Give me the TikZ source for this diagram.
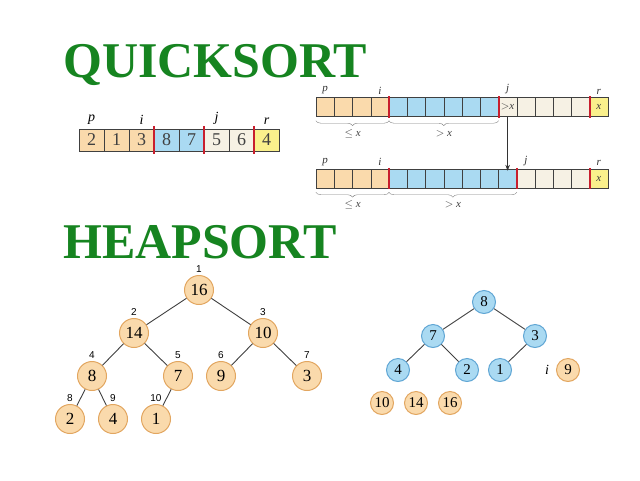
\documentclass[tikz,border=0pt]{standalone}
\usepackage{fontspec}
\setmainfont{Liberation Serif}
\setsansfont{Liberation Sans}
\usetikzlibrary{arrows.meta,positioning,calc,decorations.pathreplacing}

\definecolor{titlegreen}{RGB}{22,132,32}
\definecolor{lowpart}{RGB}{250,218,172}
\definecolor{highpart}{RGB}{170,218,242}
\definecolor{restpart}{RGB}{246,241,228}
\definecolor{pivot}{RGB}{250,240,140}
\definecolor{bar}{RGB}{200,30,45}
\definecolor{ringorange}{RGB}{226,166,96}
\definecolor{ringblue}{RGB}{96,166,212}

\tikzset{
  title/.style={font=\fontsize{50}{50}\selectfont\bfseries, text=titlegreen, anchor=base west, inner sep=0pt, text depth=0pt},
  cell/.style={draw=black!75, minimum width=25pt, minimum height=22pt, inner sep=0pt, font=\fontsize{18}{18}\selectfont, text=black!75},
  bigcell/.style={draw=black!75, minimum width=18.25pt, minimum height=19pt, inner sep=0pt},
  celltext/.style={font=\fontsize{11}{11}\selectfont, text=black!75, inner sep=0pt},
  divider/.style={bar, line width=2.5pt},
  ptr/.style={font=\fontsize{14}{14}\selectfont\itshape, inner sep=1pt},
  smallptr/.style={font=\fontsize{11}{11}\selectfont\itshape, inner sep=1pt, text=black!80},
  brace/.style={decorate, decoration={brace, mirror, amplitude=5pt}, black!50, thin},
  heapnode/.style={circle, draw=ringorange, fill=lowpart, line width=1pt, minimum size=29pt, inner sep=0pt, font=\fontsize{17}{17}\selectfont},
  bluenode/.style={circle, draw=ringblue, fill=highpart, line width=1pt, minimum size=23pt, inner sep=0pt, font=\fontsize{15}{15}\selectfont},
  sortednode/.style={bluenode, draw=ringorange, fill=lowpart},
  idx/.style={font=\sffamily\fontsize{10}{10}\selectfont, inner sep=2pt},
  edge/.style={black!75, line width=0.9pt}
}

\begin{document}
\begin{tikzpicture}[x=1pt,y=-1pt]
\useasboundingbox (0,0) rectangle (640,480);

\node[title] (quick) at (63,77) {QUICKSORT};
\node[title] (heap) at (63,258) {HEAPSORT};

% small array
\foreach \v/\c [count=\k] in {2/lowpart,1/lowpart,3/lowpart,8/highpart,7/highpart,5/restpart,6/restpart,4/pivot}
  \node[cell, fill=\c] (a\k) at ({66.5+25*\k},140) {\v};
\foreach \k in {3,5,7}
  \draw[divider] ([yshift=3pt]a\k.north east) -- ([yshift=-3pt]a\k.south east);
\node[ptr, above=3pt of a1] (ap) {p};
\node[ptr, above=3pt of a3] (ai) {i};
\node[ptr, above=3pt of a6] (aj) {j};
\node[ptr, above=3pt of a8] (ar) {r};

% partition, before
\foreach \c [count=\k] in {lowpart,lowpart,lowpart,lowpart,highpart,highpart,highpart,highpart,highpart,highpart,restpart,restpart,restpart,restpart,restpart,pivot}
  \node[bigcell, fill=\c] (b\k) at ({306.875+18.25*\k},107) {};
\foreach \k in {4,10,15}
  \draw[divider, line width=2pt] ([yshift=1pt]b\k.north east) -- ([yshift=-1pt]b\k.south east);
\node[celltext] (bgt) at (b11) {$>$\textit{x}};
\node[celltext] (bx) at (b16) {\textit{x}};
\node[smallptr, above=2pt of b1] (bp) {p};
\node[smallptr, above=2pt of b4] (bi) {i};
\node[smallptr, above=2pt of b11] (bj) {j};
\node[smallptr, above=2pt of b16] (br) {r};
\draw[brace] ([yshift=-4pt]b1.south west) -- ([yshift=-4pt]b4.south east);
\draw[brace] ([yshift=-4pt]b5.south west) -- ([yshift=-4pt]b10.south east);
\node[celltext] (ble) at ($(b2.south east)+(0,17)$) {$\le$ \textit{x}};
\node[celltext] (bgr) at ($(b7.south east)+(0,17)$) {$>$ \textit{x}};

% partition, after
\foreach \c [count=\k] in {lowpart,lowpart,lowpart,lowpart,highpart,highpart,highpart,highpart,highpart,highpart,highpart,restpart,restpart,restpart,restpart,pivot}
  \node[bigcell, fill=\c] (c\k) at ({306.875+18.25*\k},178.5) {};
\foreach \k in {4,11,15}
  \draw[divider, line width=2pt] ([yshift=1pt]c\k.north east) -- ([yshift=-1pt]c\k.south east);
\node[celltext] (cx) at (c16) {\textit{x}};
\node[smallptr, above=2pt of c1] (cp) {p};
\node[smallptr, above=2pt of c4] (ci) {i};
\node[smallptr, above=2pt of c12] (cj) {j};
\node[smallptr, above=2pt of c16] (cr) {r};
\draw[brace] ([yshift=-4pt]c1.south west) -- ([yshift=-4pt]c4.south east);
\draw[brace] ([yshift=-4pt]c5.south west) -- ([yshift=-4pt]c11.south east);
\node[celltext] (cle) at ($(c2.south east)+(0,17)$) {$\le$ \textit{x}};
\node[celltext] (cgr) at ($(c8.south)+(0,17)$) {$>$ \textit{x}};

\draw[-{Stealth[length=6pt]}, black!80] (b11.south) -- ([yshift=-2pt]c11.north);

% max-heap
\node[heapnode, label={[idx]above:1}] (h1) at (199,290) {16};
\node[heapnode, label={[idx]above:2}] (h2) at (134,333) {14};
\node[heapnode, label={[idx]above:3}] (h3) at (263,333) {10};
\node[heapnode, label={[idx]above:4}] (h4) at (92,376) {8};
\node[heapnode, label={[idx]above:5}] (h5) at (178,376) {7};
\node[heapnode, label={[idx]above:6}] (h6) at (221,376) {9};
\node[heapnode, label={[idx]above:7}] (h7) at (307,376) {3};
\node[heapnode, label={[idx]above:8}] (h8) at (70,419) {2};
\node[heapnode, label={[idx]above:9}] (h9) at (113,419) {4};
\node[heapnode, label={[idx]above:10}] (h10) at (156,419) {1};
\foreach \a/\b in {h1/h2,h1/h3,h2/h4,h2/h5,h3/h6,h3/h7,h4/h8,h4/h9,h5/h10}
  \draw[edge] (\a) -- (\b);

% heap during sorting
\node[bluenode] (g1) at (484,302) {8};
\node[bluenode] (g2) at (433,336) {7};
\node[bluenode] (g3) at (535,336) {3};
\node[bluenode] (g4) at (398,370) {4};
\node[bluenode] (g5) at (467,370) {2};
\node[bluenode] (g6) at (500,370) {1};
\node[ptr] (gi) at (547,370) {i};
\node[sortednode] (g7) at (568,370) {9};
\node[sortednode] (g8) at (382,403) {10};
\node[sortednode] (g9) at (416,403) {14};
\node[sortednode] (g10) at (450,403) {16};
\foreach \a/\b in {g1/g2,g1/g3,g2/g4,g2/g5,g3/g6}
  \draw[edge] (\a) -- (\b);
\end{tikzpicture}
\end{document}
